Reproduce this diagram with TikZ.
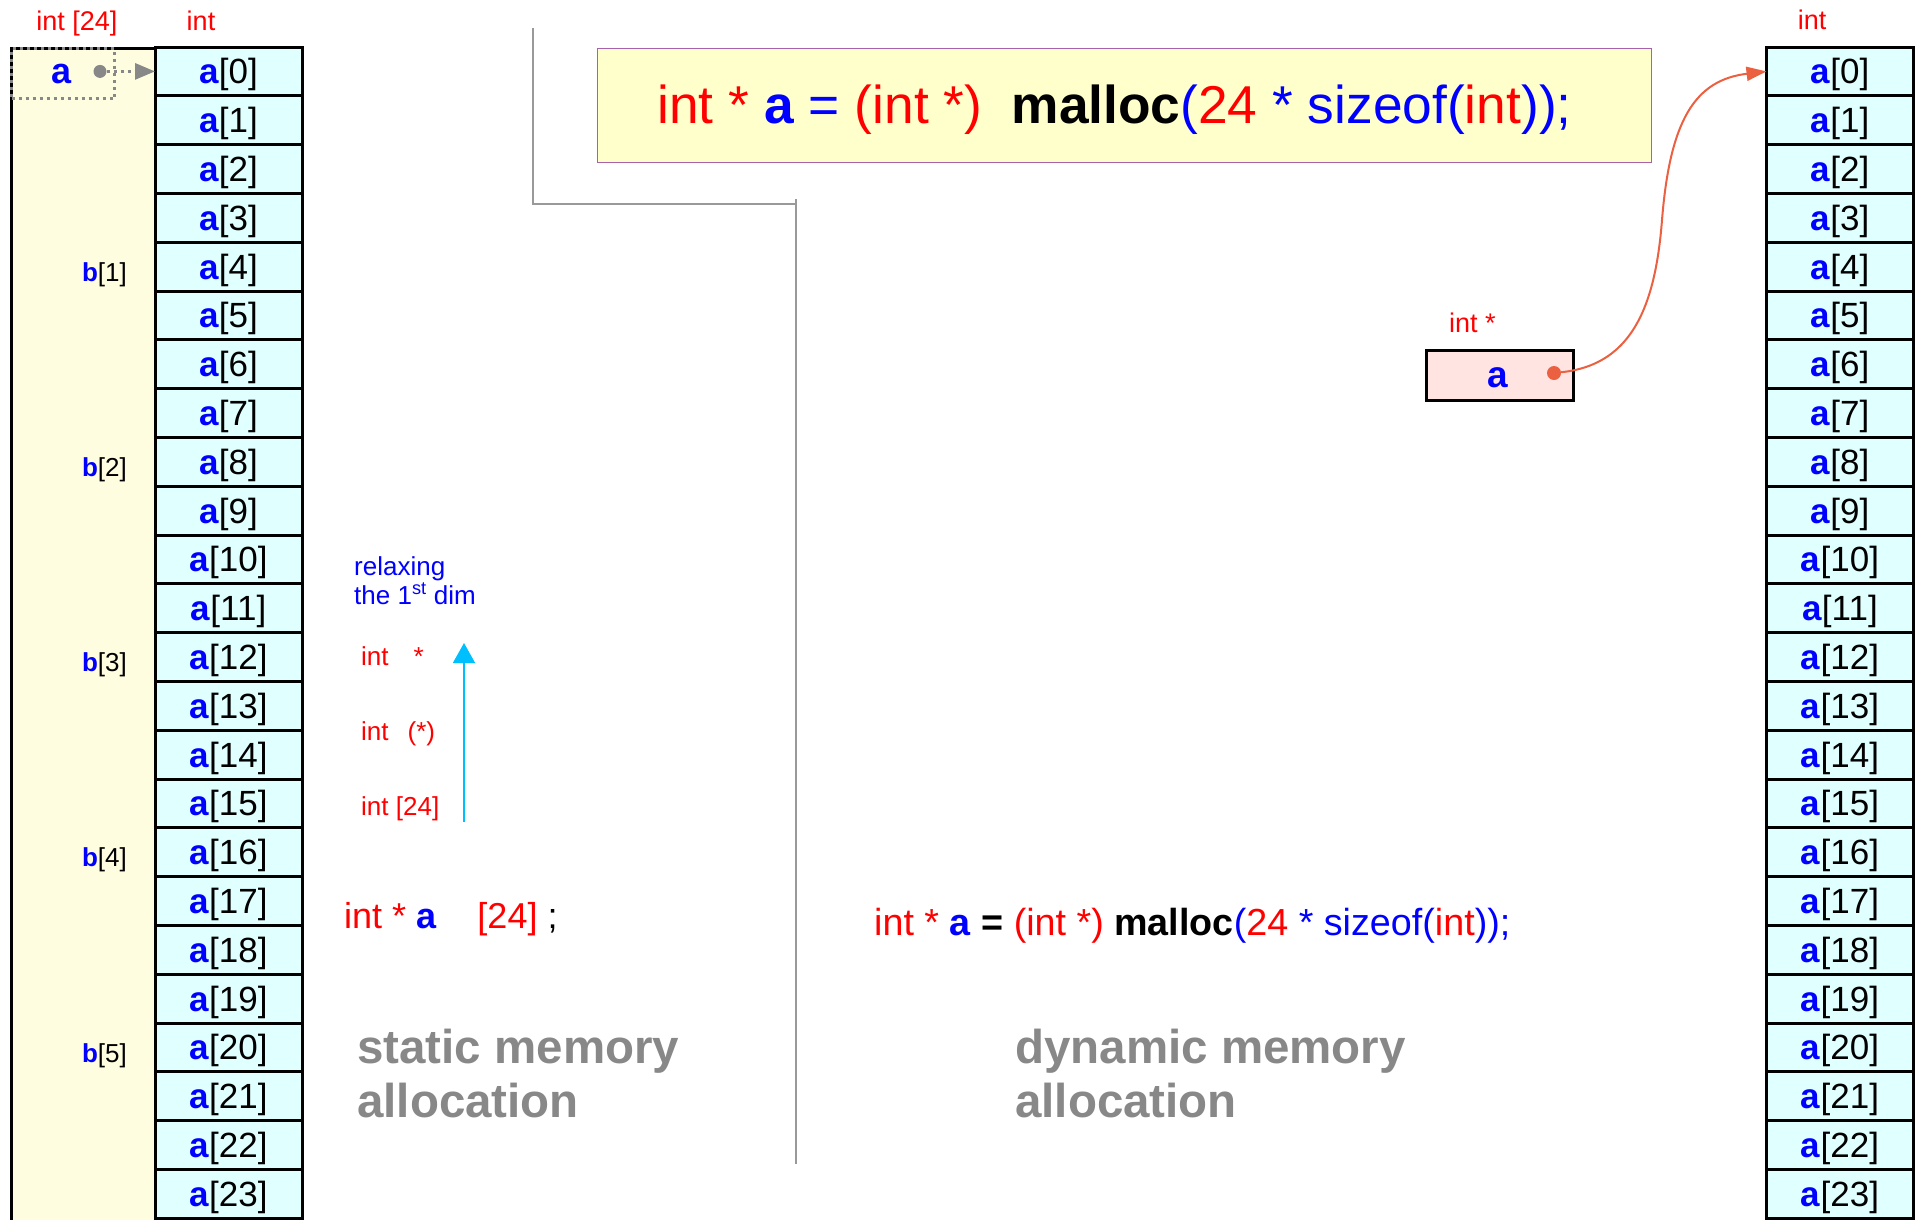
\documentclass[tikz,border=0pt]{standalone}
\usepackage{fontspec}
\setmainfont{Liberation Sans}
\usetikzlibrary{arrows.meta,positioning,calc}

\definecolor{cellcyan}{HTML}{E0FFFF}
\definecolor{boxyellow}{HTML}{FFFDE0}
\definecolor{titleyellow}{HTML}{FFFFCC}
\definecolor{titleframe}{HTML}{A962A9}
\definecolor{ptrpink}{HTML}{FFE4E1}
\definecolor{linkred}{HTML}{EA6040}
\definecolor{arrowcyan}{HTML}{00BFFF}
\definecolor{notegray}{HTML}{888888}
\definecolor{linegray}{HTML}{999999}

\newcommand{\setfs}[2]{\fontsize{#1}{#2}\selectfont}
\newcommand{\acell}[1]{\textcolor{blue}{\textbf{a}}[#1]}
\newcommand{\bcell}[1]{\textcolor{blue}{\textbf{b}}[#1]}

\begin{document}
\begin{tikzpicture}[
  x=1pt, y=-1pt, >=Stealth,
  every node/.style={inner sep=0pt},
  cell/.style={draw, line width=3pt, fill=cellcyan, minimum width=147pt,
               minimum height=48.8pt, outer sep=0pt, font=\setfs{35}{40},
               text height=32pt, text depth=7pt},
  blab/.style={font=\setfs{26}{30}, yshift=-8pt},
  tlab/.style={font=\setfs{27}{30}, text=red, anchor=base},
  note/.style={font=\setfs{26}{29}, anchor=base west},
  bignote/.style={font=\setfs{47.5}{54}\bfseries, text=notegray, anchor=base west},
  divider/.style={linegray, line width=1.3pt},
]
\useasboundingbox (0,0) rectangle (1915,1219);

% static array
\node[draw, line width=3pt, fill=boxyellow, minimum width=145pt,
      minimum height=1200pt, anchor=north west] (blk) at (10,47) {};
\node[cell, anchor=north] (L0) at (228.5,47) {\acell{0}};
\node[cell, anchor=north] (R0) at (1840,47) {\acell{0}};
\foreach \i [remember=\i as \p (initially 0)] in {1,...,23}{
  \node[cell, below=0pt of L\p] (L\i) {\acell{\i}};
  \node[cell, below=0pt of R\p] (R\i) {\acell{\i}};
}
\foreach \k in {1,...,5}{
  \pgfmathtruncatemacro\j{4*\k}
  \node[blab, left=28pt of L\j.west] (b\k) {\bcell{\k}};
}

\node[tlab] (t24) at (77,30) {int [24]};
\node[tlab] (tint) at (201,30) {int};
\node[tlab] (tintr) at (1812,29) {int};

% the name a of the array
\node[draw=notegray, dash pattern=on 3pt off 4pt, line width=3pt,
      minimum width=103pt, minimum height=50pt, anchor=north west] (abox) at (10,47) {};
\node[font=\setfs{36}{40}\bfseries, text=blue] (aname) at (62,74) {a};
\node[circle, fill=notegray, minimum size=13pt] (adot) at (100,0 |- L0.west) {};
\draw[notegray, dash pattern=on 3pt off 4pt, line width=3pt,
      -{Triangle[length=20pt, width=16pt]}] (adot) -- (L0.west);

% dividers
\coordinate (g1) at (533,28);
\coordinate (g2) at (796,204);
\coordinate (g3) at (796,199);
\coordinate (g4) at (796,1164);
\draw[divider] (g1) |- (g2);
\draw[divider] (g3) -- (g4);

% type relaxing
\node[note, text=blue] (rlxa) at (354,575) {relaxing};
\node[note, text=blue] (rlxb) at (354,604) {the 1\textsuperscript{st} dim};
\node[note, text=red] (ty1) at (361,665) {int\hspace{25pt}*};
\node[note, text=red] (ty2) at (361,740) {int\hspace{19pt}(*)};
\node[note, text=red] (ty3) at (361,815) {int [24]};
\coordinate (rlx0) at (464,822);
\coordinate (rlx1) at (464,643);
\draw[arrowcyan, line width=1.6pt, -{Triangle[length=20pt, width=22pt]}] (rlx0) -- (rlx1);

\node[font=\setfs{36}{40}, anchor=base west] (stcode) at (344,928)
  {\textcolor{red}{int *} \textcolor{blue}{\textbf{a}}\hspace{41pt}\textcolor{red}{[24]} ;};
\node[bignote] (st1) at (357,1063) {static memory};
\node[bignote] (st2) at (357,1117) {allocation};

% dynamic allocation
\node[draw=titleframe, line width=1.3pt, fill=titleyellow, minimum width=1054pt,
      minimum height=114pt, anchor=north west] (ttl) at (597,48) {};
\node[font=\setfs{53.3}{60}, anchor=base] (ttltxt) at (1114.5,123)
  {\textcolor{red}{int *} \textcolor{blue}{\textbf{a} =} \textcolor{red}{(int *)}\ \ \textbf{malloc}\textcolor{blue}{(}\textcolor{red}{24}\textcolor{blue}{\ * sizeof(}\textcolor{red}{int}\textcolor{blue}{));}};

\node[draw, line width=3pt, fill=ptrpink, minimum width=147pt,
      minimum height=50pt, anchor=north west] (pbox) at (1425,349) {};
\node[font=\setfs{37}{40}\bfseries, text=blue] (pname) at (1498,378) {a};
\node[circle, fill=linkred, minimum size=14pt] (pdot) at (1554,373) {};
\node[tlab, anchor=base west] (ptype) at (1449,332) {int *};
\draw[linkred, line width=2pt, -{Triangle[length=20pt, width=14pt]}]
  (pdot) .. controls (1630,365) and (1655,310) .. (1662,220)
         .. controls (1670,120) and (1695,80) .. (R0.west);

\node[font=\setfs{37.7}{42}, anchor=base west] (dyncode) at (874,935)
  {\textcolor{red}{int *} \textcolor{blue}{\textbf{a}} \textbf{=} \textcolor{red}{(int *)} \textbf{malloc}\textcolor{blue}{(}\textcolor{red}{24}\textcolor{blue}{\ * sizeof(}\textcolor{red}{int}\textcolor{blue}{));}};
\node[bignote] (dy1) at (1015,1063) {dynamic memory};
\node[bignote] (dy2) at (1015,1117) {allocation};
\end{tikzpicture}
\end{document}
